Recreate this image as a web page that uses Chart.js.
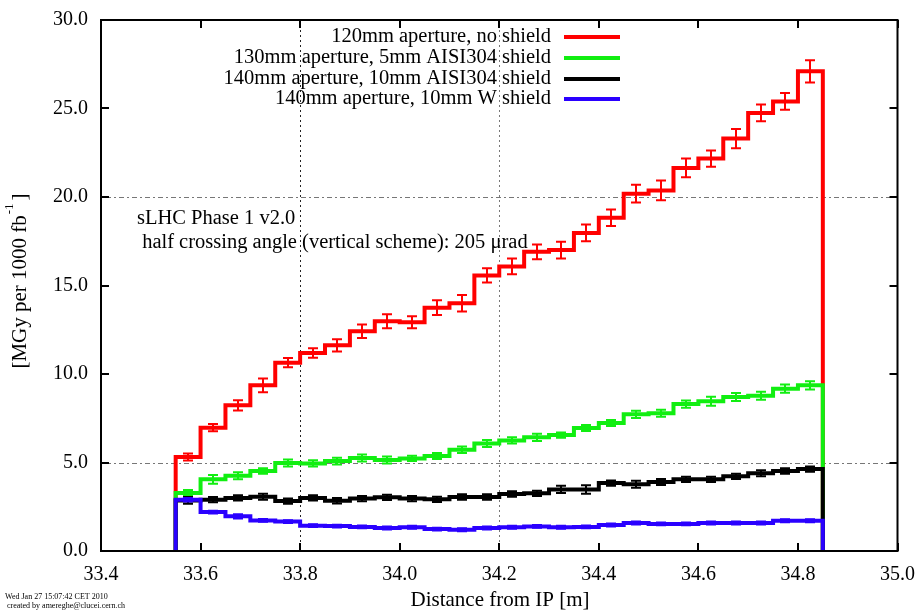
<!DOCTYPE html>
<html>
<head>
<meta charset="utf-8">
<script src="https://cdn.jsdelivr.net/npm/chart.js@4.4.0/dist/chart.umd.min.js"></script>
<style>
  html, body { margin: 0; padding: 0; background: #fff; }
  #wrap { width: 919px; height: 612px; position: relative; }
</style>
</head>
<body>
<div id="wrap"><canvas id="myChart" width="919" height="612"></canvas></div>
<script>
// bin edges along the beam line [m]
var edges = [33.55, 33.60, 33.65, 33.70, 33.75, 33.80, 33.85, 33.90, 33.95, 34.00,
             34.05, 34.10, 34.15, 34.20, 34.25, 34.30, 34.35, 34.40, 34.45, 34.50,
             34.55, 34.60, 34.65, 34.70, 34.75, 34.80, 34.85];

var labels = ['120mm aperture, no shield',
              '130mm aperture, 5mm AISI304 shield',
              '140mm aperture, 10mm AISI304 shield',
              '140mm aperture, 10mm W shield'];

var red   = [5.31, 6.97, 8.23, 9.36, 10.64, 11.19, 11.62, 12.41, 12.98, 12.92,
             13.75, 14.0, 15.57, 16.08, 16.9, 17.0, 17.97, 18.83, 20.19, 20.37,
             21.64, 22.17, 23.3, 24.75, 25.4, 27.1];
var redErr = [0.2, 0.2, 0.29, 0.39, 0.26, 0.27, 0.35, 0.38, 0.4, 0.34,
              0.42, 0.47, 0.4, 0.45, 0.42, 0.47, 0.47, 0.47, 0.5, 0.56,
              0.53, 0.46, 0.54, 0.47, 0.47, 0.63];

var green = [3.28, 4.05, 4.25, 4.52, 4.97, 4.95, 5.08, 5.25, 5.14, 5.23,
             5.37, 5.72, 6.07, 6.25, 6.42, 6.55, 6.95, 7.23, 7.72, 7.78,
             8.3, 8.46, 8.7, 8.77, 9.17, 9.36];
var greenErr = [0.16, 0.25, 0.2, 0.15, 0.2, 0.18, 0.19, 0.2, 0.2, 0.15,
                0.17, 0.19, 0.2, 0.17, 0.2, 0.15, 0.17, 0.17, 0.2, 0.2,
                0.2, 0.25, 0.23, 0.23, 0.23, 0.23];

var black = [2.86, 2.9, 3.0, 3.07, 2.82, 3.0, 2.84, 2.96, 3.03, 2.96,
             2.92, 3.05, 3.05, 3.22, 3.26, 3.48, 3.48, 3.84, 3.77, 3.9,
             4.05, 4.05, 4.22, 4.39, 4.52, 4.63];
var blackErr = [0.19, 0.15, 0.15, 0.17, 0.15, 0.15, 0.15, 0.15, 0.15, 0.15,
                0.15, 0.15, 0.15, 0.15, 0.15, 0.2, 0.24, 0.15, 0.2, 0.17,
                0.15, 0.15, 0.15, 0.17, 0.15, 0.15];

var blue  = [2.9, 2.2, 1.96, 1.73, 1.66, 1.43, 1.41, 1.36, 1.3, 1.34,
             1.24, 1.2, 1.3, 1.34, 1.39, 1.34, 1.36, 1.47, 1.58, 1.53,
             1.53, 1.58, 1.58, 1.58, 1.71, 1.71];
var blueErr = [0.1, 0.08, 0.12, 0.08, 0.08, 0.08, 0.08, 0.08, 0.08, 0.08,
               0.08, 0.08, 0.08, 0.08, 0.08, 0.08, 0.08, 0.08, 0.08, 0.08,
               0.08, 0.08, 0.08, 0.08, 0.08, 0.08];

var colors = ['#ff0000', '#11ee11', '#000000', '#2a00ff'];

var FONT = '"Liberation Serif", "DejaVu Serif", serif';

// histogram outline: up from zero at the first edge, back to zero at the last
function histo(vals) {
    var pts = [{x: edges[0], y: 0}, {x: edges[0], y: vals[0]}];
    for (var i = 1; i < vals.length; i++) pts.push({x: edges[i], y: vals[i]});
    pts.push({x: edges[edges.length - 1], y: vals[vals.length - 1]});
    pts.push({x: edges[edges.length - 1], y: 0});
    return pts;
}

function ds(i, vals, errs, order) {
    return {
        label: labels[i],
        data: histo(vals),
        vals: vals,
        errs: errs,
        borderColor: colors[i],
        backgroundColor: colors[i],
        borderWidth: 4,
        borderJoinStyle: 'miter',
        pointRadius: 0,
        stepped: 'before',
        fill: false,
        order: order
    };
}

// error bars at bin centres
var errorBars = {
    id: 'errorBars',
    afterDatasetDraw: function (chart, args) {
        var d = chart.data.datasets[args.index];
        var xs = chart.scales.x, ys = chart.scales.y, ctx = chart.ctx;
        ctx.save();
        ctx.strokeStyle = d.borderColor;
        ctx.lineWidth = 2;
        for (var i = 0; i < d.vals.length; i++) {
            var cx = Math.round(xs.getPixelForValue((edges[i] + edges[i + 1]) / 2));
            var y1 = ys.getPixelForValue(d.vals[i] - d.errs[i]);
            var y2 = ys.getPixelForValue(d.vals[i] + d.errs[i]);
            ctx.beginPath();
            ctx.moveTo(cx, y1); ctx.lineTo(cx, y2);
            ctx.moveTo(cx - 5, y1); ctx.lineTo(cx + 5, y1);
            ctx.moveTo(cx - 5, y2); ctx.lineTo(cx + 5, y2);
            ctx.stroke();
        }
        ctx.restore();
    }
};

// gnuplot-ish frame, inward ticks, partial grid, texts, legend
var frame = {
    id: 'frame',
    beforeDatasetsDraw: function (chart) {
        var ctx = chart.ctx, a = chart.chartArea;
        var xs = chart.scales.x, ys = chart.scales.y;
        ctx.save();
        ctx.lineWidth = 1;
        ctx.setLineDash([2, 3]);
        ctx.strokeStyle = '#222';
        var px = Math.round(xs.getPixelForValue(33.8)) + 0.5;
        ctx.beginPath(); ctx.moveTo(px, a.top); ctx.lineTo(px, a.bottom); ctx.stroke();
        ctx.strokeStyle = '#777';
        px = Math.round(xs.getPixelForValue(34.2)) + 0.5;
        ctx.beginPath(); ctx.moveTo(px, a.top); ctx.lineTo(px, a.bottom); ctx.stroke();
        ctx.setLineDash([2, 3, 5, 3]);
        [5, 20].forEach(function (v) {
            var py = Math.round(ys.getPixelForValue(v)) + 0.5;
            ctx.beginPath(); ctx.moveTo(a.left, py); ctx.lineTo(a.right, py); ctx.stroke();
        });
        ctx.restore();
    },
    afterDraw: function (chart) {
        var ctx = chart.ctx, a = chart.chartArea;
        var xs = chart.scales.x, ys = chart.scales.y;
        ctx.save();
        ctx.strokeStyle = '#000';
        ctx.lineWidth = 2;
        ctx.strokeRect(a.left, a.top, a.right - a.left, a.bottom - a.top);
        ctx.beginPath();
        xs.ticks.forEach(function (t) {
            var p = Math.round(xs.getPixelForValue(t.value));
            ctx.moveTo(p, a.bottom); ctx.lineTo(p, a.bottom - 8);
            ctx.moveTo(p, a.top); ctx.lineTo(p, a.top + 8);
        });
        ys.ticks.forEach(function (t) {
            var p = Math.round(ys.getPixelForValue(t.value));
            ctx.moveTo(a.left, p); ctx.lineTo(a.left + 8, p);
            ctx.moveTo(a.right, p); ctx.lineTo(a.right - 8, p);
        });
        ctx.stroke();

        ctx.fillStyle = '#000';
        // axis titles
        ctx.font = '21px ' + FONT;
        ctx.textAlign = 'center';
        ctx.textBaseline = 'middle';
        ctx.fillText('Distance from IP [m]', 500, 600);

        ctx.save();
        ctx.translate(20, 281);
        ctx.rotate(-Math.PI / 2);
        var t1 = '[MGy per 1000 fb', t2 = ']';
        ctx.font = '21px ' + FONT;
        var w1 = ctx.measureText(t1).width;
        ctx.font = '13px ' + FONT;
        var ws = ctx.measureText('-1').width;
        ctx.font = '21px ' + FONT;
        var w2 = ctx.measureText(t2).width;
        var x0 = -(w1 + ws + 4 + w2) / 2;
        ctx.textAlign = 'left';
        ctx.fillText(t1, x0, 0);
        ctx.font = '13px ' + FONT;
        ctx.fillText('-1', x0 + w1 + 1, -10);
        ctx.font = '21px ' + FONT;
        ctx.fillText(t2, x0 + w1 + ws + 4, 0);
        ctx.restore();

        // annotation
        ctx.textAlign = 'left';
        ctx.font = '20.5px ' + FONT;
        ctx.fillText('sLHC Phase 1 v2.0', 137, 219);
        ctx.fillText(' half crossing angle (vertical scheme): 205 \u03bcrad', 137, 243);

        // legend
        var rows = [37, 58, 79, 99];
        for (var i = 0; i < labels.length; i++) {
            ctx.textAlign = 'right';
            ctx.fillStyle = '#000';
            ctx.fillText(labels[i], 551, rows[i]);
            ctx.strokeStyle = colors[i];
            ctx.lineWidth = 4;
            ctx.beginPath();
            ctx.moveTo(564, rows[i]); ctx.lineTo(620, rows[i]);
            ctx.stroke();
        }

        // footer
        ctx.textAlign = 'left';
        ctx.fillStyle = '#000';
        ctx.font = '8px ' + FONT;
        ctx.fillText('Wed Jan 27 15:07:42 CET 2010', 5, 597);
        ctx.fillText(' created by amereghe@clucei.cern.ch', 5, 606);
        ctx.restore();
    }
};

const config = {
    type: 'line',
    data: {
        datasets: [
            ds(0, red, redErr, 4),
            ds(1, green, greenErr, 3),
            ds(2, black, blackErr, 2),
            ds(3, blue, blueErr, 1)
        ]
    },
    options: {
        responsive: false,
        animation: false,
        layout: { padding: { top: 20, right: 21, left: 0, bottom: 0 } },
        plugins: { legend: { display: false }, tooltip: { enabled: false } },
        scales: {
            x: {
                type: 'linear',
                min: 33.4, max: 35.0,
                grid: { display: false },
                border: { display: false },
                afterFit: function (s) { s.height = 61; },
                ticks: {
                    stepSize: 0.2,
                    padding: 4,
                    color: '#000',
                    maxRotation: 0,
                    font: { family: FONT, size: 20 },
                    callback: function (v) { return Number(v).toFixed(1); }
                }
            },
            y: {
                min: 0, max: 30,
                grid: { display: false },
                border: { display: false },
                afterFit: function (s) { s.width = 101; },
                ticks: {
                    stepSize: 5,
                    padding: 5,
                    color: '#000',
                    font: { family: FONT, size: 20 },
                    callback: function (v) { return Number(v).toFixed(1); }
                }
            }
        }
    },
    plugins: [errorBars, frame]
};

const myChart = new Chart(document.getElementById('myChart'), config);
</script>
</body>
</html>
